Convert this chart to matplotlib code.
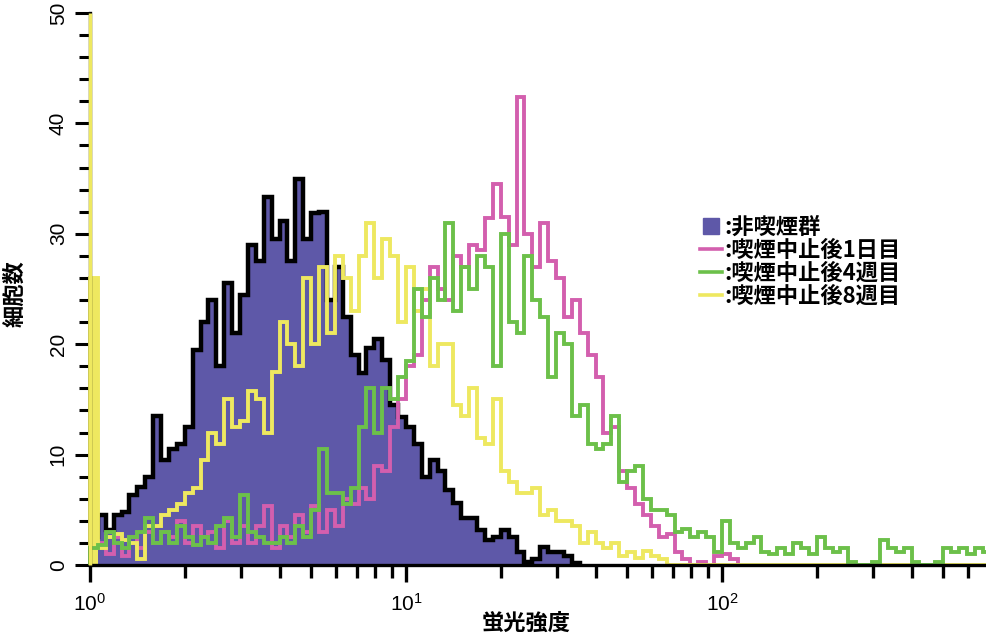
import numpy as np
import matplotlib
matplotlib.use("Agg")
import matplotlib.pyplot as plt
from matplotlib.lines import Line2D
from matplotlib.ticker import FixedLocator, FixedFormatter, LogLocator, MultipleLocator

plt.rcParams["font.family"] = ["Liberation Sans", "Noto Sans CJK JP"]
plt.rcParams["mathtext.fontset"] = "custom"
plt.rcParams["mathtext.rm"] = "Liberation Sans"

JP = ["Noto Sans CJK JP", "DejaVu Sans"]

# channels: 40 per decade starting at 10^0
per_decade = 40

non_smoker = [2.5, 4.5, 3.2, 4.5, 4.8, 6.3, 7.1, 8, 13.5, 9.5,
              10.5, 11, 12.5, 19.5, 22, 24, 18, 25.5, 21, 24.5,
              29, 27.5, 33.3, 29.5, 31.2, 27.5, 35, 29.5, 31.9, 32,
              24, 27, 22.5, 19, 17.4, 19.7, 20.5, 18.6, 14.5, 13.4,
              12.5, 11, 8, 9.5, 8.5, 6.8, 5.6, 4.3, 4.3, 3.2,
              2.3, 2.5, 3.2, 2.5, 1.2, 0.3, 0.5, 1.6, 1.2, 1.2,
              0.8, 0.2]

day1 = [1.5, 2, 1, 2.5, 0.8, 2.5, 1.5, 3, 2, 3,
        2.5, 4, 2, 3.5, 2.5, 3, 1.5, 4, 2, 3.5,
        2, 3.5, 5.3, 1.5, 3.5, 2.5, 4.5, 3, 5.3, 3,
        5, 3.5, 6, 5.5, 7, 6, 9, 8.5, 12.5, 15,
        18, 19, 24, 27, 25, 24, 28, 27, 29, 28.5,
        31.4, 34.5, 31.5, 29, 42.4, 30, 27, 31, 27.5, 26,
        22.5, 24, 21, 19, 17, 12, 12.5, 8.5, 7, 5.5,
        4.5, 3.5, 2.5, 2.8, 1.2, 0.5, 0, 0.3, 0, 0.8,
        1, 0.5]

week4 = [1.5, 1.8, 3, 2, 1.5, 2.5, 3, 4.3, 2, 3,
         2, 3.5, 2.5, 1.8, 2.5, 2, 3.5, 4.3, 2.5, 6.3,
         3, 2.5, 2, 2, 2.5, 2, 3.5, 2.5, 5, 10.5,
         6.5, 6.5, 5.5, 7, 12.5, 16, 12, 16, 15, 17,
         18.5, 25, 22.5, 26, 24, 31, 23, 27, 25, 28,
         27, 18, 30, 22, 21, 28, 24, 22.5, 17, 21,
         20, 13.5, 14.5, 11, 10.5, 11, 13.5, 7.5, 8.5, 9,
         6, 5, 5, 4.5, 3, 3.3, 2.5, 3, 2.5, 1.2,
         4, 2, 1.5, 2, 2.5, 1.2, 1, 1.5, 1, 2,
         1.5, 1, 2.5, 1.5, 1.2, 1.5, 0.3, 0, 0, 0.3,
         2.3, 1.5, 1.2, 1.5, 0.3, 0, 0, 0.3, 1.5, 1.2,
         1.5, 1, 1.5, 1.2]

week8 = [26, 1.5, 2.5, 2.8, 2.3, 2, 0.5, 3.5, 3.5, 4.5,
         5, 5.5, 6.5, 7, 9.5, 12, 11, 15, 12.5, 13,
         15.8, 15, 12, 17.5, 22, 20, 18, 26, 20, 27,
         21, 28, 26, 23, 28, 31, 26, 29.5, 28, 22,
         27, 23, 25, 18, 20, 20, 14.5, 13.5, 16, 11.5,
         11, 15, 8.5, 7.5, 6.5, 6.5, 7, 4.5, 5, 4,
         4, 3.5, 2, 3, 2, 1.5, 2, 0.8, 1.2, 0.6,
         1.3, 0.8, 0.5] + [0] * 41
week8_first = 50  # off-scale first channel

labels = [":非喫煙群", ":喫煙中止後1日目", ":喫煙中止後4週目", ":喫煙中止後8週目"]
c_fill, c_day1, c_week4, c_week8 = "#5e58a8", "#d35fae", "#6cc04a", "#eee860"

n_max = max(len(non_smoker), len(day1), len(week4), len(week8))
edges = 10 ** (np.arange(n_max + 1) / per_decade)


def edges_for(vals):
    return edges[: len(vals) + 1]


fig = plt.figure(figsize=(9.87, 6.35), dpi=100)
ax = fig.add_axes([90 / 987, 1 - 565 / 635, 897 / 987, 552 / 635])

ax.stairs(non_smoker, edges_for(non_smoker), fill=True, color=c_fill, zorder=1)
ax.stairs(non_smoker, edges_for(non_smoker), color="black", lw=3.2, zorder=1.5)
ax.stairs(day1, edges_for(day1), color=c_day1, lw=2.8, zorder=2, clip_on=False)
# first yellow channel drawn solid, like the wide band beside the axis
ax.stairs(week8[:1], edges[:2], fill=True, color=c_week8, zorder=2.1)
ax.stairs(week8, edges_for(week8), color=c_week8, lw=2.8, zorder=2.1, clip_on=False)
ax.stairs(week4, edges_for(week4), color=c_week4, lw=2.8, zorder=2.2, clip_on=False)
ax.vlines(edges[0], 0, week8_first, color=c_week8, lw=2.5, zorder=3, clip_on=False)

ax.set_xscale("log")
ax.set_xlim(1, 10 ** (897 / 316))
ax.set_ylim(0, 50)

for side in ["top", "right"]:
    ax.spines[side].set_visible(False)
for side in ["left", "bottom"]:
    ax.spines[side].set_linewidth(2.4)

ax.xaxis.set_major_locator(FixedLocator([1, 10, 100]))
ax.xaxis.set_major_formatter(FixedFormatter([r"$\mathregular{10^{0}}$",
                                             r"$\mathregular{10^{1}}$",
                                             r"$\mathregular{10^{2}}$"]))
ax.xaxis.set_minor_locator(LogLocator(base=10, subs=np.arange(2, 10)))
ax.xaxis.set_minor_formatter(FixedFormatter([]))
ax.yaxis.set_major_locator(MultipleLocator(10))
ax.yaxis.set_minor_locator(MultipleLocator(2))

ax.tick_params(axis="x", which="major", direction="out", length=12, width=2.4, pad=8, labelsize=15)
ax.tick_params(axis="x", which="minor", direction="out", length=9, width=2.4)
ax.tick_params(axis="y", which="major", direction="out", length=11, width=2.2, pad=5,
               labelsize=15, labelrotation=90)
ax.tick_params(axis="y", which="minor", direction="out", length=8, width=2.2)
for lab in ax.get_yticklabels():
    lab.set_va("center")

ax.set_xlabel("蛍光強度", family=JP, fontsize=16, fontweight="bold", va="center")
ax.xaxis.set_label_coords((526 - 90) / 897, (565 - 623) / 552)
ax.set_ylabel("細胞数", family=JP, fontsize=16, fontweight="bold", va="center")
ax.yaxis.set_label_coords((15 - 90) / 897, (565 - 294) / 552)

handles = [
    Line2D([], [], marker="s", ls="none", color=c_fill, markersize=12),
    Line2D([], [], color=c_day1, lw=2.6),
    Line2D([], [], color=c_week4, lw=2.6),
    Line2D([], [], color=c_week8, lw=2.6),
]
ax.legend(handles, labels, loc="upper left", bbox_to_anchor=(700 / 987, 1 - 216 / 635),
          bbox_transform=fig.transFigure, frameon=False, handlelength=1.0,
          handletextpad=0.1, labelspacing=0.0, borderpad=0, borderaxespad=0,
          prop={"family": JP, "size": 16, "weight": "bold"})

fig.savefig("out.png", dpi=100)
